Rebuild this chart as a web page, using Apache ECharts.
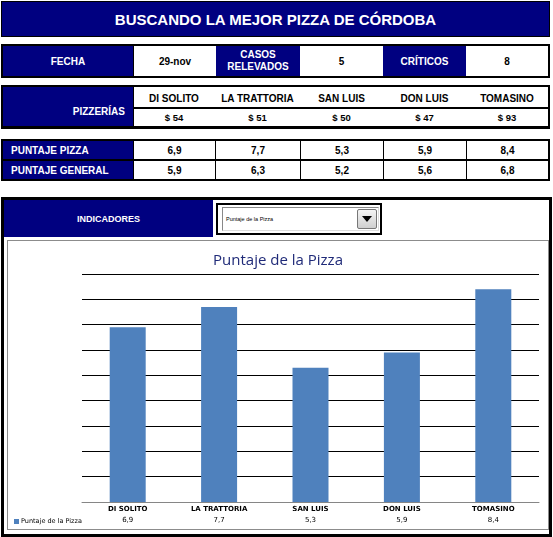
<!DOCTYPE html>
<html>
<head>
<meta charset="utf-8">
<title>Buscando la mejor pizza de Córdoba</title>
<script src="https://cdn.jsdelivr.net/npm/echarts@6/dist/echarts.min.js"></script>
<style>
    body { margin: 0; background: #fff; font-family: "Liberation Sans", Arial, sans-serif; }
    #page { position: relative; width: 553px; height: 537px; overflow: hidden; }
    .c { position: absolute; box-sizing: border-box; display: flex; align-items: center; justify-content: center;
         text-align: center; font-weight: bold; white-space: nowrap; }
    .navy { background: #000080; color: #fff; }
    .white { background: #fff; color: #000; }
    .black { background: #000; }
    #chart { position: absolute; left: 8px; top: 241px; width: 540px; height: 288px; }
</style>
</head>
<body>
<div id="page"></div>
<div id="chart"></div>
<script>
var pizzerias = ['DI SOLITO', 'LA TRATTORIA', 'SAN LUIS', 'DON LUIS', 'TOMASINO'];
var precios = [54, 51, 50, 47, 93];
var puntajePizza = [6.9, 7.7, 5.3, 5.9, 8.4];
var puntajeGeneral = [5.9, 6.3, 5.2, 5.6, 6.8];
var fecha = '29-nov';
var casosRelevados = 5;
var criticos = 8;
var yTicks = [0, 1, 2, 3, 4, 5, 6, 7, 8, 9];

var page = document.getElementById('page');

// one spreadsheet-like cell
function cell(x, y, w, h, cls, text, css) {
    var d = document.createElement('div');
    d.className = 'c ' + cls;
    d.style.left = x + 'px';
    d.style.top = y + 'px';
    d.style.width = w + 'px';
    d.style.height = h + 'px';
    if (css) d.style.cssText += css;
    if (text !== undefined) d.innerHTML = text;
    page.appendChild(d);
    return d;
}

function coma(v) {
    return v.toFixed(1).replace('.', ',');
}

// title bar
cell(1, 1, 549, 36, 'navy', 'BUSCANDO LA MEJOR PIZZA DE CÓRDOBA', 'font-size:15px;border:1px solid #000;');

// fecha / casos / criticos
cell(1, 44, 549, 34, 'black');
cell(3, 46, 130, 30, 'navy', 'FECHA', 'font-size:10px;');
cell(134, 46, 82, 30, 'white', fecha, 'font-size:10px;');
cell(216, 46, 84, 30, 'navy', 'CASOS<br>RELEVADOS', 'font-size:10px;line-height:12px;');
cell(300, 46, 83, 30, 'white', casosRelevados, 'font-size:10px;');
cell(383, 46, 83, 30, 'navy', 'CRÍTICOS', 'font-size:10px;');
cell(466, 46, 82, 30, 'white', criticos, 'font-size:10px;');

// pizzerias y precios
var colX = [133, 215, 300, 383, 466, 548];
cell(1, 85, 549, 44, 'black');
cell(3, 87, 130, 39, 'navy', 'PIZZERÍAS', 'font-size:10px;justify-content:flex-end;padding-right:8px;padding-top:10px;');
cell(134, 87, 414, 20, 'white');
cell(134, 109, 414, 17, 'white');
for (var i = 0; i < pizzerias.length; i++) {
    cell(colX[i] - 4, 87, colX[i + 1] - colX[i] + 8, 20, '', pizzerias[i], 'font-size:10px;color:#000;padding-top:3px;');
    cell(colX[i], 109, colX[i + 1] - colX[i], 17, '', '$ ' + precios[i], 'font-size:9.5px;color:#000;');
}

// puntajes
cell(1, 139, 549, 42, 'black');
cell(3, 141, 130, 18, 'navy', 'PUNTAJE PIZZA', 'font-size:10px;justify-content:flex-start;padding-left:8px;');
cell(3, 161, 130, 18, 'navy', 'PUNTAJE GENERAL', 'font-size:10px;justify-content:flex-start;padding-left:8px;');
for (var j = 0; j < puntajePizza.length; j++) {
    var x0 = colX[j] + 1, w0 = colX[j + 1] - colX[j] - 1;
    if (j == 0) { x0 = 134; w0 = colX[1] - 134; }
    cell(x0, 141, w0, 18, 'white', coma(puntajePizza[j]), 'font-size:10px;');
    cell(x0, 161, w0, 18, 'white', coma(puntajeGeneral[j]), 'font-size:10px;');
}

// panel del grafico
cell(1, 197, 551, 340, '', undefined, 'border:3px solid #000;background:#fff;');
cell(4, 200, 209, 37, 'navy', 'INDICADORES', 'font-size:9px;');
cell(216, 203, 166, 32, '', undefined, 'border:2px solid #000;background:#fff;');
cell(222, 207, 157, 24, '', undefined, 'border:1px solid #888;border-right-color:#ddd;border-bottom-color:#ddd;background:#fff;');
cell(226, 207, 120, 24, '', 'Puntaje de la Pizza', 'font-size:5.5px;font-weight:normal;color:#000;justify-content:flex-start;');
cell(357, 209, 20, 20, '', '<svg width="10" height="6"><polygon points="0,0 10,0 5,6" fill="#000"/></svg>',
    'border:1px solid #777;border-radius:2px;background:linear-gradient(#f4f4f4,#cfcfcf);');
cell(7, 240, 542, 290, '', undefined, 'border:1px solid #8c8c8c;');

(function () {
    "use strict";
    var myChart = echarts.init(document.getElementById('chart'));

    var option = {
        animation: false,
        title: {
            text: 'Puntaje de la Pizza',
            left: 'center',
            top: 12,
            padding: 0,
            textStyle: {
                fontFamily: 'Open Sans',
                fontSize: 15,
                fontWeight: 'normal',
                color: '#1f2a78'
            }
        },
        legend: {
            left: 6,
            top: 277,
            padding: 0,
            icon: 'rect',
            itemWidth: 5,
            itemHeight: 5,
            itemGap: 3,
            textStyle: { fontSize: 6.5, color: '#000', fontFamily: 'DejaVu Sans', padding: [0, 0, 0, -3] },
            data: ['Puntaje de la Pizza']
        },
        grid: { left: 74, right: 9, top: 33, bottom: 27 },
        xAxis: {
            type: 'category',
            data: pizzerias,
            axisLine: { lineStyle: { color: '#868686', width: 1 } },
            axisTick: { show: false },
            axisLabel: {
                margin: 2,
                interval: 0,
                formatter: function (value, idx) {
                    return '{n|' + value + '}\n{v|' + coma(puntajePizza[idx]) + '}';
                },
                rich: {
                    n: { fontSize: 7, fontWeight: 'bold', color: '#000', fontFamily: 'DejaVu Sans', lineHeight: 11 },
                    v: { fontSize: 7, color: '#000', fontFamily: 'DejaVu Sans', lineHeight: 11 }
                }
            }
        },
        yAxis: {
            type: 'value',
            min: yTicks[0],
            max: yTicks[yTicks.length - 1],
            interval: yTicks[1] - yTicks[0],
            axisLabel: { show: false },
            axisLine: { show: false },
            axisTick: { show: false },
            splitLine: { lineStyle: { color: '#000', width: 1 } }
        },
        series: [
            {
                name: 'Puntaje de la Pizza',
                type: 'bar',
                barWidth: 36,
                itemStyle: { color: '#4f81bd' },
                data: puntajePizza
            }
        ]
    };

    myChart.setOption(option, true);
})();
</script>
</body>
</html>
